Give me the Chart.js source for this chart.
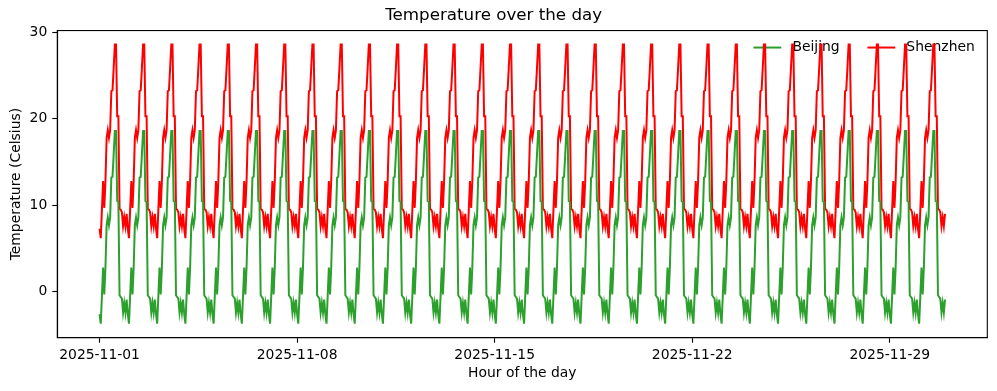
<!DOCTYPE html>
<html>
<head>
<meta charset="utf-8">
<script src="https://cdn.jsdelivr.net/npm/chart.js@4.4.1/dist/chart.umd.min.js"></script>
<style>
  html, body { margin: 0; padding: 0; background: #fff; }
</style>
</head>
<body>
<canvas id="tempChart" width="997" height="391"></canvas>
<script>
// days of November 2025, one line sample per hour
const days = [
  '2025-11-01','2025-11-02','2025-11-03','2025-11-04','2025-11-05','2025-11-06',
  '2025-11-07','2025-11-08','2025-11-09','2025-11-10','2025-11-11','2025-11-12',
  '2025-11-13','2025-11-14','2025-11-15','2025-11-16','2025-11-17','2025-11-18',
  '2025-11-19','2025-11-20','2025-11-21','2025-11-22','2025-11-23','2025-11-24',
  '2025-11-25','2025-11-26','2025-11-27','2025-11-28','2025-11-29','2025-11-30'
];
const hours = [0,1,2,3,4,5,6,7,8,9,10,11,12,13,14,15,16,17,18,19,20,21,22,23];

// the daily profile is the same every day in the picture
const beijingByHour = [-2.6,-3.7,-0.5,2.8,-0.3,2.8,7.7,8.6,7.7,8.6,13.2,13.3,15.9,18.6,18.6,10.5,10.4,-0.4,-0.6,-0.8,-2.4,-1.3,-2.4,-0.9];
const shenzhenByHour = [7.3,6.2,9.5,12.8,9.7,12.8,17.8,18.7,17.8,18.7,23.2,23.3,25.9,28.6,28.6,20.3,20.3,9.6,9.5,9.2,7.6,8.6,7.6,9.0];

const seriesNames = ['Beijing', 'Shenzhen'];
const seriesColors = ['#2ca02c', '#ff0000'];
const tickLabels = ['2025-11-01','2025-11-08','2025-11-15','2025-11-22','2025-11-29'];
const yTicks = [0, 10, 20, 30];

function buildPoints(profile) {
  const pts = [];
  days.forEach((d, di) => {
    hours.forEach((h, hi) => pts.push({ x: di * 24 + h, y: profile[hi] }));
  });
  return pts;
}
const beijing = buildPoints(beijingByHour);
const shenzhen = buildPoints(shenzhenByHour);

// matplotlib-style 5% margins
const xLast = (days.length - 1) * 24 + hours[hours.length - 1];
const xPad = xLast * 0.05;
const allY = beijingByHour.concat(shenzhenByHour);
const yMin = Math.min(...allY), yMax = Math.max(...allY);
const yPad = (yMax - yMin) * 0.05;
const tickHours = tickLabels.map(l => days.indexOf(l) * 24);

const FONT = 'DejaVu Sans';
Chart.defaults.font.family = FONT;
Chart.defaults.color = '#000';

const framePlugin = {
  id: 'frame',
  afterDatasetsDraw(chart) {
    const { ctx, chartArea: a } = chart;
    ctx.save();
    ctx.strokeStyle = '#000';
    ctx.lineWidth = 1.1;
    ctx.strokeRect(a.left, a.top, a.right - a.left, a.bottom - a.top);
    ctx.restore();
  }
};

// legend with no frame, two columns, upper right
const legendPlugin = {
  id: 'mplLegend',
  beforeDatasetsDraw(chart) {
    const { ctx, chartArea: a } = chart;
    const fs = 13.9;
    ctx.save();
    ctx.font = fs + 'px ' + FONT;
    const handle = 2 * fs, gap = 0.8 * fs, colSpace = 2 * fs;
    let total = 0;
    seriesNames.forEach((n, i) => {
      total += handle + gap + ctx.measureText(n).width;
      if (i < seriesNames.length - 1) total += colSpace;
    });
    let x = a.right - 0.5 * fs - 0.4 * fs - total;
    const y = a.top + 17;
    seriesNames.forEach((n, i) => {
      ctx.strokeStyle = seriesColors[i];
      ctx.lineWidth = 2;
      ctx.beginPath();
      ctx.moveTo(x, y);
      ctx.lineTo(x + handle, y);
      ctx.stroke();
      x += handle + gap;
      ctx.fillStyle = '#000';
      ctx.textBaseline = 'middle';
      ctx.textAlign = 'left';
      ctx.fillText(n, x, y);
      x += ctx.measureText(n).width + colSpace;
    });
    ctx.restore();
  }
};

new Chart(document.getElementById('tempChart'), {
  type: 'line',
  data: {
    datasets: [
      { label: seriesNames[0], data: beijing, borderColor: seriesColors[0], backgroundColor: seriesColors[0],
        borderWidth: 2, pointRadius: 0, tension: 0, fill: false },
      { label: seriesNames[1], data: shenzhen, borderColor: seriesColors[1], backgroundColor: seriesColors[1],
        borderWidth: 2, pointRadius: 0, tension: 0, fill: false }
    ]
  },
  options: {
    responsive: false,
    animation: false,
    devicePixelRatio: 1,
    layout: { padding: { left: 0, right: 9.7, top: 0, bottom: 0 } },
    plugins: {
      legend: { display: false },
      tooltip: { enabled: false },
      title: {
        display: true, text: 'Temperature over the day', color: '#000',
        font: { size: 16.7, weight: 'normal' }, padding: { top: 6, bottom: 4.5 }
      }
    },
    scales: {
      x: {
        type: 'linear', min: -xPad, max: xLast + xPad,
        afterBuildTicks: s => { s.ticks = tickHours.map(v => ({ value: v })); },
        afterFit: s => { s.height = 53.3; },
        ticks: {
          callback: v => tickLabels[tickHours.indexOf(v)],
          font: { size: 13.9 }, padding: 4, maxRotation: 0, autoSkip: false, color: '#000'
        },
        grid: { drawOnChartArea: false, drawTicks: true, tickLength: 5, color: '#000', tickWidth: 1.1 },
        border: { display: true, color: '#000', width: 1.1 },
        title: { display: true, text: 'Hour of the day', font: { size: 13.9 }, padding: { top: 0, bottom: 9 }, color: '#000' }
      },
      y: {
        type: 'linear', min: yMin - yPad, max: yMax + yPad,
        afterBuildTicks: s => { s.ticks = yTicks.map(v => ({ value: v })); },
        afterFit: s => { s.width = 57.3; },
        ticks: { font: { size: 13.9 }, padding: 5, color: '#000' },
        grid: { drawOnChartArea: false, drawTicks: true, tickLength: 5, color: '#000', tickWidth: 1.1 },
        border: { display: true, color: '#000', width: 1.1 },
        title: { display: true, text: 'Temperature (Celsius)', font: { size: 13.9 }, padding: { top: 8, bottom: 0 }, color: '#000' }
      }
    }
  },
  plugins: [legendPlugin, framePlugin]
});
</script>
</body>
</html>
